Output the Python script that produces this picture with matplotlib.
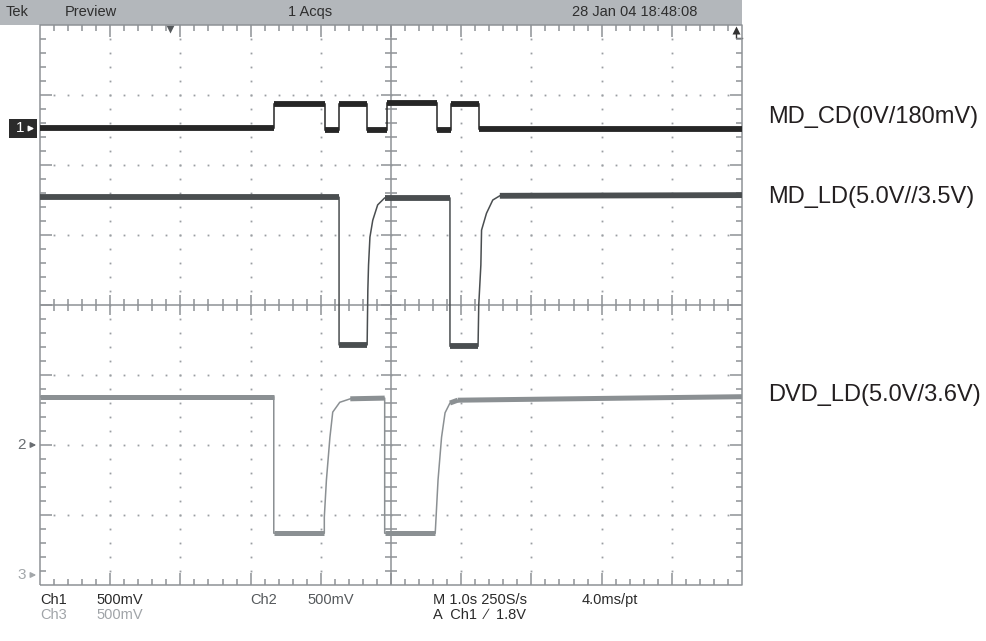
import numpy as np
import matplotlib
matplotlib.use("Agg")
import matplotlib.pyplot as plt
from matplotlib.patches import Rectangle

plt.rcParams["font.family"] = ["Liberation Sans", "DejaVu Sans"]

# ─── Trace data (screen divisions: x 0..10, y 0..8 from bottom) ──────────────
# Ch1  MD_CD : logic-like steps
ch1_edges  = [0, 3.34, 4.06, 4.26, 4.66, 4.94, 5.65, 5.86, 6.25, 10]
ch1_levels = [6.53, 6.87, 6.50, 6.87, 6.50, 6.88, 6.50, 6.87, 6.52]

# Ch2  MD_LD : two dips with slow recovery
ch2_t = [0, 4.26, 4.26, 4.66, 4.67, 4.68, 4.70, 4.74, 4.81, 4.91,
         5.84, 5.84, 6.24, 6.25, 6.28, 6.29, 6.36, 6.45, 6.55, 10]
ch2_v = [5.54, 5.54, 3.43, 3.43, 4.21, 4.57, 4.97, 5.21, 5.43, 5.53,
         5.53, 3.41, 3.41, 4.00, 4.57, 5.07, 5.31, 5.50, 5.56, 5.57]

# Ch3  DVD_LD
ch3_t = [0, 3.33, 3.33, 4.05, 4.05, 4.08, 4.13, 4.17, 4.27, 4.42,
         4.91, 4.91, 5.63, 5.64, 5.67, 5.72, 5.77, 5.84, 5.95, 10]
ch3_v = [2.69, 2.69, 0.74, 0.74, 0.97, 1.50, 2.11, 2.47, 2.61, 2.66,
         2.67, 0.74, 0.74, 0.93, 1.50, 2.11, 2.46, 2.60, 2.64, 2.69]

labels   = ["MD_CD(0V/180mV)", "MD_LD(5.0V//3.5V)", "DVD_LD(5.0V/3.6V)"]
label_y  = [117, 197, 395]

C1, C2, C3 = "#262626", "#4a4e50", "#8b9093"
GR = "#8e9296"

W, H = 987, 641
fig = plt.figure(figsize=(W / 100, H / 100), dpi=100)

# pixel-space decoration layer
deco = fig.add_axes([0, 0, 1, 1])
deco.set_xlim(0, W)
deco.set_ylim(H, 0)
deco.axis("off")

# graticule axes (40..742 px wide, 25..585 px high)
L, R, T, B = 40, 742, 25, 585
ax = fig.add_axes([L / W, (H - B) / H, (R - L) / W, (B - T) / H])
ax.set_xlim(0, 10)
ax.set_ylim(0, 8)
ax.axis("off")
px = 10 / (R - L)   # one pixel in x divisions
py = 8 / (B - T)    # one pixel in y divisions

# ─── Graticule ────────────────────────────────────────────────────────────────
kw = dict(color=GR, lw=1.1, clip_on=False, solid_capstyle="butt")
ax.plot([0, 10, 10, 0, 0], [0, 0, 8, 8, 0], **kw)
ax.plot([5, 5], [0, 8], **kw)
ax.plot([0, 10], [4, 4], **kw)

# dotted grid
for i in range(1, 10):
    if i == 5:
        continue
    ys = np.arange(1, 40) * 0.2
    ax.plot(np.full_like(ys, i), ys, ls="none", marker="s", ms=1.3,
            mec="none", mfc="#9a9ea2")
for j in range(1, 8):
    if j == 4:
        continue
    xs = np.arange(1, 50) * 0.2
    ax.plot(xs, np.full_like(xs, j), ls="none", marker="s", ms=1.3,
            mec="none", mfc="#9a9ea2")

# edge + centre ticks
for k in range(1, 50):
    x = k * 0.2
    major = (k % 5 == 0)
    ln = (12 if major else 6)
    ax.plot([x, x], [8, 8 - ln * py], **kw)
    ax.plot([x, x], [0, ln * py], **kw)
    c = (10 if major else 6)
    ax.plot([x, x], [4 - c * py, 4 + c * py], **kw)
for k in range(1, 40):
    y = k * 0.2
    major = (k % 5 == 0)
    ln = (12 if major else 6)
    ax.plot([0, ln * px], [y, y], **kw)
    ax.plot([10, 10 - ln * px], [y, y], **kw)
    c = (10 if major else 6)
    ax.plot([5 - c * px, 5 + c * px], [y, y], **kw)


# ─── Traces ───────────────────────────────────────────────────────────────────
def draw_trace(t, v, color, thick):
    t = np.asarray(t); v = np.asarray(v)
    ax.plot(t, v, color=color, lw=1.1, zorder=5)
    for a in range(len(t) - 1):
        if abs(v[a + 1] - v[a]) < 0.05 and t[a + 1] - t[a] > 0.05:
            ax.plot(t[a:a + 2], v[a:a + 2], color=color, lw=thick,
                    solid_capstyle="butt", zorder=6)


ax.stairs(ch1_levels, ch1_edges, color=C1, lw=1.1, baseline=None, zorder=5)
ax.hlines(ch1_levels, ch1_edges[:-1], ch1_edges[1:], color=C1, lw=4.2, zorder=6)
draw_trace(ch2_t, ch2_v, C2, 4.2)
draw_trace(ch3_t, ch3_v, C3, 3.6)

# ─── Header bar ───────────────────────────────────────────────────────────────
deco.add_patch(Rectangle((0, 0), 742, 24.5, fc="#b3b7bb", ec="none"))
hk = dict(fontsize=10.5, color="#2e2e2e", va="center")
deco.text(6, 12, "Tek", **hk)
deco.text(65, 12, "Preview", **hk)
deco.text(310, 12, "1 Acqs", ha="center", **hk)
deco.text(697, 12, "28 Jan 04 18:48:08", ha="right", **hk)

# trigger markers
deco.plot([170], [28.5], marker="v", ms=6, color="#55595c", mec="none")
deco.plot([735.5, 735.5, 741.5], [30, 38, 38], color="#333333", lw=1.0)
deco.plot([735.5], [29.5], marker="^", ms=5.5, color="#333333", mec="none")

# channel ground markers
deco.add_patch(Rectangle((9, 119), 28, 19, fc="#2b2b2b", ec="none"))
deco.text(20, 128.5, "1", color="white", fontsize=11, ha="center", va="center")
deco.annotate("", xy=(37, 128.5), xytext=(26, 128.5),
              arrowprops=dict(arrowstyle="-|>", color="white", lw=1.0,
                              mutation_scale=8))
for ytxt, col, lab in [(445, "#6a6e72", "2"), (575, "#a3a7aa", "3")]:
    deco.text(22, ytxt, lab, color=col, fontsize=11, ha="center", va="center")
    deco.annotate("", xy=(39, ytxt), xytext=(29, ytxt),
                  arrowprops=dict(arrowstyle="-|>", color=col, lw=1.0,
                                  mutation_scale=8))

# ─── Footer readouts ──────────────────────────────────────────────────────────
fk = dict(fontsize=10.5, va="center")
deco.text(40, 600, "Ch1", color="#2a2a2a", **fk)
deco.text(96, 600, "500mV", color="#2a2a2a", **fk)
deco.text(40, 615, "Ch3", color="#a0a4a8", **fk)
deco.text(96, 615, "500mV", color="#a0a4a8", **fk)
deco.text(250, 600, "Ch2", color="#55595c", **fk)
deco.text(307, 600, "500mV", color="#55595c", **fk)
deco.text(433, 600, "M 1.0s 250S/s", color="#2a2a2a", **fk)
deco.text(582, 600, "4.0ms/pt", color="#2a2a2a", **fk)
deco.text(433, 615, "A  Ch1  \u2215  1.8V", color="#2a2a2a", **fk)

# ─── Signal names on the right ────────────────────────────────────────────────
for lab, yy in zip(labels, label_y):
    deco.text(768, yy, lab, fontsize=17, color="#231f20", va="center")

fig.savefig("out.png", dpi=100)
